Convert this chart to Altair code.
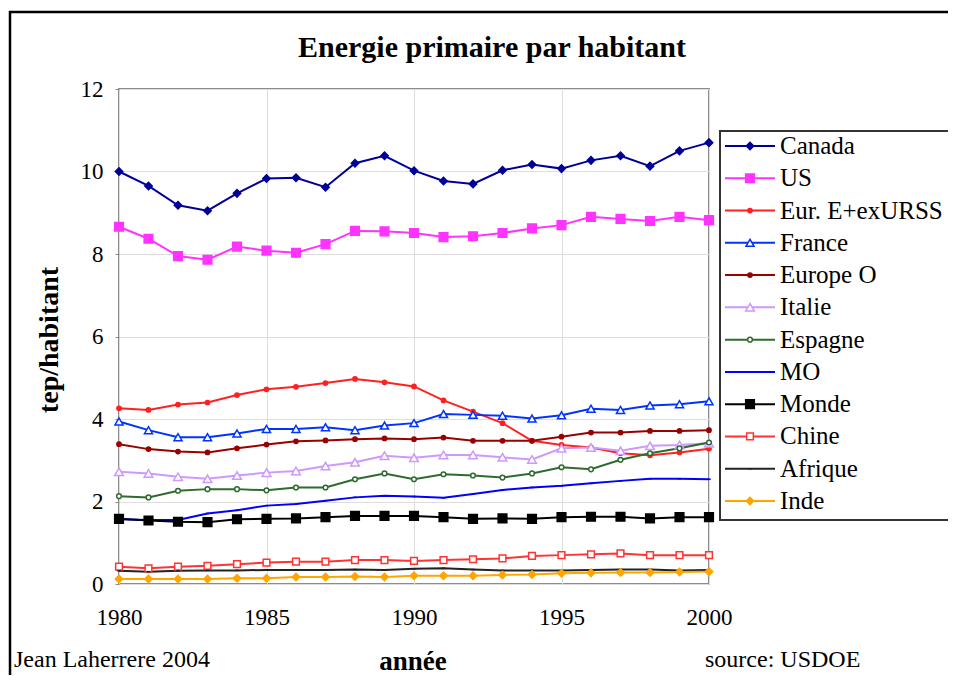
import altair as alt
import pandas as pd

years = list(range(1980, 2001))

names = ["Canada", "US", "Eur. E+exURSS", "France", "Europe O", "Italie",
         "Espagne", "MO", "Monde", "Chine", "Afrique", "Inde"]

canada = [10.0, 9.65, 9.18, 9.05, 9.47, 9.83, 9.85, 9.62, 10.2, 10.38, 10.02,
          9.77, 9.7, 10.03, 10.17, 10.07, 10.27, 10.38, 10.13, 10.5, 10.7]
us = [8.66, 8.37, 7.95, 7.86, 8.18, 8.08, 8.03, 8.24, 8.56, 8.55, 8.51,
      8.41, 8.43, 8.51, 8.62, 8.7, 8.9, 8.85, 8.8, 8.9, 8.82]
eur_e = [4.26, 4.22, 4.35, 4.4, 4.58, 4.72, 4.78, 4.87, 4.97, 4.89, 4.79,
         4.45, 4.18, 3.9, 3.47, 3.37, 3.31, 3.17, 3.12, 3.19, 3.28]
france = [3.94, 3.73, 3.56, 3.56, 3.65, 3.76, 3.76, 3.8, 3.73, 3.84, 3.9,
          4.12, 4.1, 4.08, 4.01, 4.09, 4.25, 4.22, 4.33, 4.36, 4.43]
europe_o = [3.39, 3.27, 3.21, 3.19, 3.29, 3.38, 3.46, 3.48, 3.51, 3.53, 3.51,
            3.55, 3.47, 3.47, 3.47, 3.57, 3.67, 3.67, 3.71, 3.71, 3.73]
italie = [2.72, 2.68, 2.6, 2.55, 2.63, 2.7, 2.74, 2.86, 2.95, 3.11, 3.06,
          3.13, 3.13, 3.07, 3.02, 3.29, 3.31, 3.23, 3.35, 3.37, 3.41]
espagne = [2.13, 2.1, 2.26, 2.3, 2.3, 2.27, 2.34, 2.34, 2.54, 2.68, 2.54,
           2.66, 2.63, 2.58, 2.68, 2.83, 2.78, 3.01, 3.17, 3.29, 3.43]
mo = [1.57, 1.55, 1.55, 1.71, 1.79, 1.9, 1.94, 2.02, 2.1, 2.14, 2.12,
      2.09, 2.18, 2.28, 2.34, 2.38, 2.44, 2.5, 2.55, 2.55, 2.54]
monde = [1.58, 1.54, 1.51, 1.5, 1.57, 1.58, 1.59, 1.62, 1.65, 1.65, 1.65,
         1.62, 1.58, 1.59, 1.58, 1.62, 1.63, 1.63, 1.59, 1.62, 1.62]
chine = [0.42, 0.38, 0.42, 0.44, 0.48, 0.52, 0.54, 0.54, 0.58, 0.58, 0.56,
         0.58, 0.6, 0.62, 0.68, 0.7, 0.72, 0.74, 0.7, 0.7, 0.7]
afrique = [0.32, 0.3, 0.32, 0.33, 0.33, 0.34, 0.34, 0.34, 0.35, 0.34, 0.37,
           0.38, 0.35, 0.33, 0.33, 0.33, 0.34, 0.35, 0.35, 0.33, 0.34]
inde = [0.12, 0.12, 0.12, 0.12, 0.14, 0.14, 0.17, 0.17, 0.18, 0.17, 0.2,
        0.2, 0.2, 0.22, 0.23, 0.26, 0.27, 0.28, 0.28, 0.29, 0.3]

series = [canada, us, eur_e, france, europe_o, italie, espagne, mo, monde,
          chine, afrique, inde]

x_ticks = [1980, 1985, 1990, 1995, 2000]
y_ticks = [0, 2, 4, 6, 8, 10, 12]

title_text = "Energie primaire par habitant"
y_title = "tep/habitant"
x_title = "année"
author = "Jean Laherrere 2004"
source = "source: USDOE"

# styles
colors = ["#000099", "#FF33FF", "#FF2020", "#0033FF", "#990000", "#CC99FF",
          "#2E6B2E", "#0000FF", "#000000", "#FF3333", "#222222", "#FFA500"]
fills = ["#000099", "#FF33FF", "#FF2020", "#FFFFFF", "#990000", "#FFFFFF",
         "#FFFFFF", "#0000FF", "#000000", "#FFFFFF", "#222222", "#FFA500"]
shapes = ["diamond", "square", "circle", "triangle-up", "circle", "triangle-up",
          "circle", "stroke", "square", "square", "stroke", "diamond"]
sizes = [55, 75, 18, 65, 18, 75, 22, 12, 75, 45, 14, 55]

rows = []
for n, vals in zip(names, series):
    for yr, v in zip(years, vals):
        rows.append({"name": n, "year": yr, "value": v})
df = pd.DataFrame(rows)

color_scale = alt.Scale(domain=names, range=colors)
fill_scale = alt.Scale(domain=names, range=fills)
shape_scale = alt.Scale(domain=names, range=shapes)
size_scale = alt.Scale(type="ordinal", domain=names, range=sizes)

FONT = "Liberation Serif"

x_enc = alt.X("year:Q", scale=alt.Scale(domain=[1980, 2000], nice=False, zero=False),
              axis=alt.Axis(values=x_ticks, format="d", title=None, labelPadding=22,
                            labelFlush=False, labelOverlap=False,
                            tickSize=0, grid=True))
y_enc = alt.Y("value:Q", scale=alt.Scale(domain=[0, 12], nice=False),
              axis=alt.Axis(values=y_ticks, title=None, labelPadding=12,
                            labelFlush=False, labelOverlap=False,
                            tickSize=4, grid=True))

lines = alt.Chart(df).mark_line(strokeWidth=2).encode(
    x=x_enc, y=y_enc,
    color=alt.Color("name:N", scale=color_scale, legend=None),
)
points = alt.Chart(df).mark_point(filled=False, strokeWidth=1.5, opacity=1).encode(
    x=x_enc, y=y_enc,
    color=alt.Color("name:N", scale=color_scale, legend=None),
    fill=alt.Fill("name:N", scale=fill_scale, legend=None),
    shape=alt.Shape("name:N", scale=shape_scale, legend=None),
    size=alt.Size("name:N", scale=size_scale, legend=None),
)
main = alt.layer(lines, points)

# legend
leg_df = pd.DataFrame({"name": names})
leg_y = alt.Y("name:N", sort=names,
              scale=alt.Scale(type="point", domain=names, range=[57, 412], padding=0),
              axis=None)
leg_box = alt.Chart(pd.DataFrame({"k": [0]})).mark_rect(
    fill="white", stroke="#333333", strokeWidth=2).encode(
    x=alt.value(601), x2=alt.value(900), y=alt.value(42), y2=alt.value(431))
leg_rules = alt.Chart(leg_df).mark_rule(strokeWidth=2).encode(
    x=alt.value(606), x2=alt.value(656), y=leg_y,
    color=alt.Color("name:N", scale=color_scale, legend=None))
leg_pts = alt.Chart(leg_df).mark_point(filled=False, strokeWidth=1.5, opacity=1).encode(
    x=alt.value(631), y=leg_y,
    color=alt.Color("name:N", scale=color_scale, legend=None),
    fill=alt.Fill("name:N", scale=fill_scale, legend=None),
    shape=alt.Shape("name:N", scale=shape_scale, legend=None),
    size=alt.Size("name:N", scale=size_scale, legend=None))
leg_txt = alt.Chart(leg_df).mark_text(
    align="left", baseline="middle", font=FONT, fontSize=25, color="black").encode(
    x=alt.value(661), y=leg_y, text="name:N")
legend = alt.layer(leg_rules, leg_pts, leg_txt)

# frame and annotations
frame = alt.Chart(pd.DataFrame({"k": [0]})).mark_rect(
    fill=None, stroke="black", strokeWidth=2.5).encode(
    x=alt.value(-109), x2=alt.value(1000), y=alt.value(-77), y2=alt.value(700))


def label(txt, x, y, size, bold=False, align="center", angle=0):
    return alt.Chart(pd.DataFrame({"t": [txt]})).mark_text(
        font=FONT, fontSize=size, fontWeight="bold" if bold else "normal",
        align=align, baseline="middle", color="black", angle=angle).encode(
        x=alt.value(x), y=alt.value(y), text="t:N")


title = label(title_text, 373, -41, 30, bold=True)
ytitle = label(y_title, -69, 251, 28, bold=True, angle=270)
xtitle = label(x_title, 294, 573, 27, bold=True)
auth = label(author, -105, 571, 24, align="left")
src = label(source, 586, 571, 24, align="left")

chart = alt.layer(frame, main, leg_box, legend, title, ytitle, xtitle, auth, src).resolve_scale(
    y="independent"
).properties(
    width=590, height=495,
    autosize=alt.AutoSizeParams(type="none"),
    padding={"left": 111, "top": 81, "right": 239, "bottom": 91},
    background="white",
).configure_view(
    stroke="#8C8C8C", strokeWidth=2
).configure_axis(
    labelFont=FONT, labelFontSize=23, labelColor="black",
    gridColor="#DDDDDD", gridWidth=1, domain=False, tickColor="#8C8C8C",
)

chart.save("out.html", embed_options={"renderer": "svg", "actions": False})
